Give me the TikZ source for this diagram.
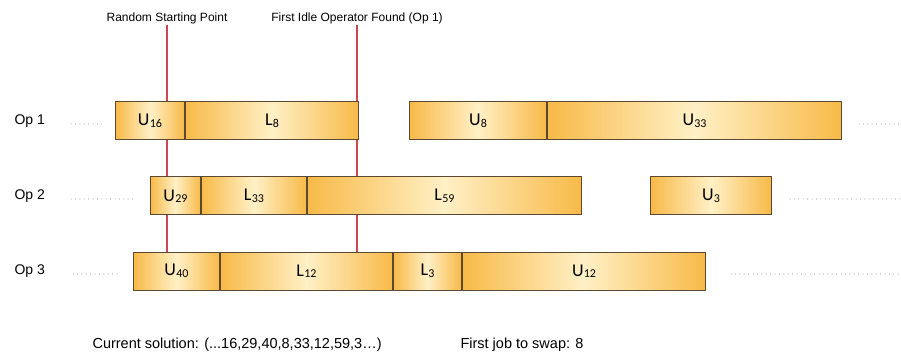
\documentclass[tikz,border=0pt]{standalone}
\usepackage{fontspec}
\setmainfont{Liberation Sans}
\newfontfamily\jobfont{Carlito}
\usetikzlibrary{positioning}

\definecolor{jobedge}{RGB}{248,186,72}
\definecolor{jobmid}{RGB}{255,240,198}
\definecolor{jobline}{RGB}{90,72,48}
\definecolor{markline}{RGB}{205,70,82}

% job label with a small lowered index
\newcommand{\jobl}[2]{#1\kern0.3pt\raisebox{-1.5pt}{\fontsize{12}{13}\selectfont #2}}

\begin{document}
\begin{tikzpicture}[x=1pt, y=-1pt, node distance=0pt,
		job/.style = {draw=jobline, line width=1pt, left color=jobedge, right color=jobedge, middle color=jobmid,
			minimum height=38pt, inner sep=0pt, font=\jobfont\fontsize{18}{20}\selectfont},
		oplabel/.style = {anchor=west, font=\fontsize{14}{16}\selectfont},
		note/.style = {anchor=west, font=\fontsize{14.5}{17}\selectfont},
		marker/.style = {font=\fontsize{12}{14}\selectfont, inner sep=1pt, anchor=south},
		redline/.style = {draw=markline, line width=1.2pt},
		dots/.style = {draw=black!50, line width=1pt, line cap=round, dash pattern=on 0pt off 4.4pt}]
		\useasboundingbox (0,0) rectangle (901,355);

		% markers, drawn first so the jobs cover them
		\node[marker] (start) at (167,25) {Random Starting Point};
		\node[marker] (idle) at (357,25) {First Idle Operator Found (Op 1)};
		\coordinate (startend) at (167,252);
		\coordinate (idleend) at (357,252);
		\path[redline] (start.south) -- (startend);
		\path[redline] (idle.south) -- (idleend);

		% operators
		\node[oplabel] (op1) at (11,121) {Op 1};
		\node[oplabel] (op2) at (11,196) {Op 2};
		\node[oplabel] (op3) at (11,271) {Op 3};

		% Op 1 schedule
		\node[job, minimum width=69pt, anchor=west] (u16) at (115,121) {\jobl{U}{16}};
		\node[job, minimum width=173pt] (l8) [right=of u16] {\jobl{L}{8}};
		\node[job, minimum width=137pt, anchor=west] (u8) at (409,121) {\jobl{U}{8}};
		\node[job, minimum width=294pt] (u33) [right=of u8] {\jobl{U}{33}};

		% Op 2 schedule
		\node[job, minimum width=50pt, anchor=west] (u29) at (150,196) {\jobl{U}{29}};
		\node[job, minimum width=105pt] (l33) [right=of u29] {\jobl{L}{33}};
		\node[job, minimum width=274pt] (l59) [right=of l33] {\jobl{L}{59}};
		\node[job, minimum width=121pt, anchor=west] (u3) at (650,196) {\jobl{U}{3}};

		% Op 3 schedule
		\node[job, minimum width=86pt, anchor=west] (u40) at (133,271) {\jobl{U}{40}};
		\node[job, minimum width=172pt] (l12) [right=of u40] {\jobl{L}{12}};
		\node[job, minimum width=68pt] (l3) [right=of l12] {\jobl{L}{3}};
		\node[job, minimum width=243pt] (u12) [right=of l3] {\jobl{U}{12}};

		% unfinished parts of each row
		\coordinate (d1a) at (71,124); \coordinate (d1b) at (102,124);
		\coordinate (d1c) at (859,124); \coordinate (d1d) at (900,124);
		\coordinate (d2a) at (71,199); \coordinate (d2b) at (135,199);
		\coordinate (d2c) at (790,199); \coordinate (d2d) at (900,199);
		\coordinate (d3a) at (73,274); \coordinate (d3b) at (117,274);
		\coordinate (d3c) at (731,274); \coordinate (d3d) at (900,274);
		\foreach \a/\b in {d1a/d1b, d1c/d1d, d2a/d2b, d2c/d2d, d3a/d3b, d3c/d3d}
			\draw[dots] (\a) -- (\b);

		\node[note] (sol) at (89,345) {Current solution: (...16,29,40,8,33,12,59,3…)};
		\node[note] (swap) at (457,345) {First job to swap: 8};
	\end{tikzpicture}
\end{document}
